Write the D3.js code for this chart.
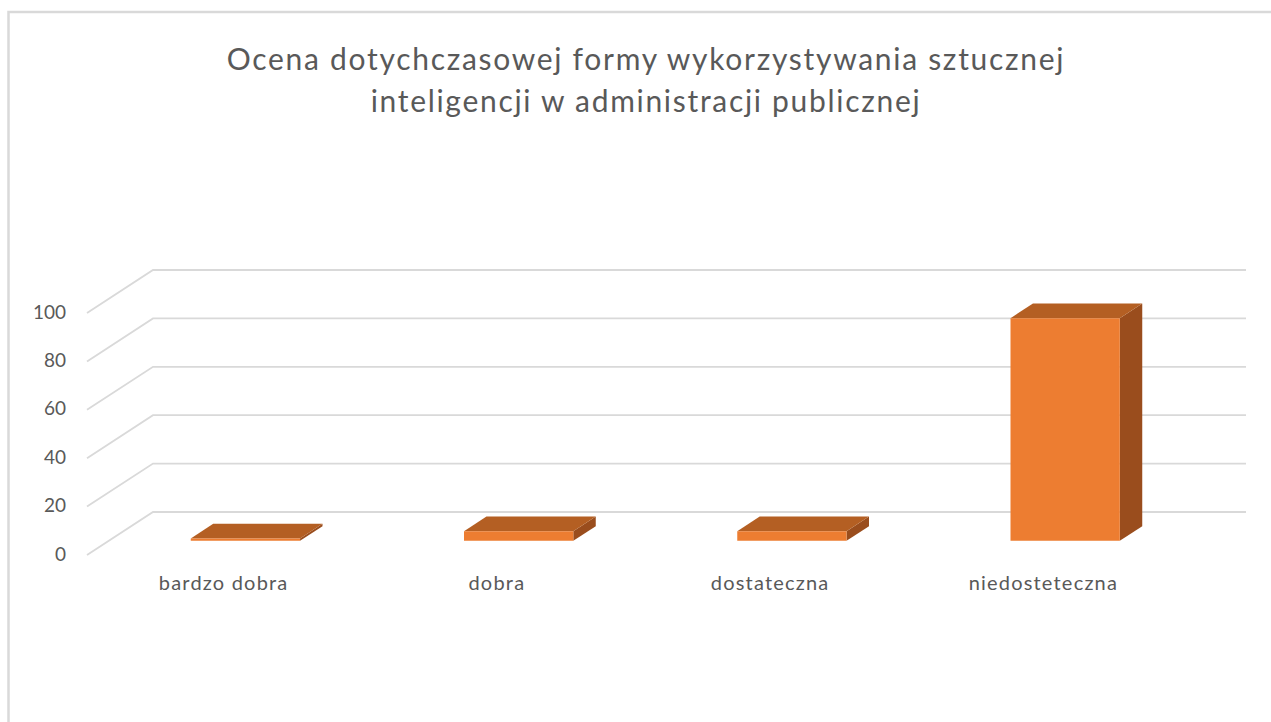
<!DOCTYPE html>
<html>
<head>
<meta charset="utf-8">
<script src="https://cdn.jsdelivr.net/npm/d3@7"></script>
<style>
  body { margin: 0; background: #fff; }
  text { font-family: Lato, "Open Sans", sans-serif; fill: #595959; }
</style>
</head>
<body>
<div id="chart"></div>
<script>
// chart data
let categories = ['bardzo dobra', 'dobra', 'dostateczna', 'niedosteteczna'];
let values = [1, 4, 4, 92];
let tick_values = [0, 20, 40, 60, 80, 100];
let title_lines = ['Ocena dotychczasowej formy wykorzystywania sztucznej',
  'inteligencji w administracji publicznej'];

let svg_width = 1271;
let svg_height = 722;

// back wall of the 3d box
let wall = { left: 153, right: 1246, top: 270, bottom: 512 };
// oblique offset from back to front
let depth_dx = -66;
let depth_dy = 43;

let svg = d3.select('#chart').append('svg')
  .attr('width', svg_width)
  .attr('height', svg_height);

// chart border
svg.append('rect')
  .attr('x', 8.5).attr('y', 12)
  .attr('width', 1300).attr('height', 800)
  .attr('fill', 'none')
  .attr('stroke', '#d9d9d9')
  .attr('stroke-width', 2.5);

let x = d3.scaleBand()
  .domain(categories)
  .range([wall.left, wall.right])
  .padding(0);

let y = d3.scaleLinear()
  .domain([0, 100])
  .range([wall.bottom, wall.top]);

// project a back-wall point to a given depth (0 = back, 1 = front)
function proj(px, py, depth) {
  return [px + depth * depth_dx, py + depth * depth_dy];
}

// gridlines: back wall + side wall
let grid = svg.append('g');
tick_values.forEach(function(t) {
  let yy = y(t);
  let front = proj(wall.left, yy, 1);
  grid.append('path')
    .attr('d', `M${front[0]},${front[1]}L${wall.left},${yy}L${wall.right},${yy}`)
    .attr('fill', 'none')
    .attr('stroke', '#d9d9d9')
    .attr('stroke-width', 1.8);
});

// y tick labels at the front edge
svg.append('g').selectAll('text')
  .data(tick_values)
  .enter()
  .append('text')
  .attr('x', 66)
  .attr('y', d => proj(wall.left, y(d), 1)[1] - 1)
  .attr('dy', '0.35em')
  .attr('text-anchor', 'end')
  .attr('font-size', '19px')
  .text(d => d);

// bars
let bar_w = x.bandwidth() * 0.4;
let d_back = 0.33;
let d_front = 0.67;

let bars = svg.append('g').selectAll('g')
  .data(categories.map((c, i) => ({ cat: c, value: values[i] })))
  .enter()
  .append('g');

function poly(pts) {
  return 'M' + pts.map(p => p.join(',')).join('L') + 'Z';
}

bars.each(function(d) {
  let g = d3.select(this);
  let x0 = x(d.cat) + (x.bandwidth() - bar_w) / 2;
  let x1 = x0 + bar_w;
  let yTop = y(d.value);
  let yBase = y(0);

  let fTL = proj(x0, yTop, d_front), fTR = proj(x1, yTop, d_front);
  let fBR = proj(x1, yBase, d_front), fBL = proj(x0, yBase, d_front);
  let bTL = proj(x0, yTop, d_back), bTR = proj(x1, yTop, d_back);
  let bBR = proj(x1, yBase, d_back);

  // side face
  g.append('path')
    .attr('d', poly([fTR, bTR, bBR, fBR]))
    .attr('fill', '#9a4d1d');
  // top face
  g.append('path')
    .attr('d', poly([fTL, fTR, bTR, bTL]))
    .attr('fill', '#b45f23');
  // front face
  g.append('path')
    .attr('d', poly([fTL, fTR, fBR, fBL]))
    .attr('fill', '#ed7d31');
});

// category labels at front edge
svg.append('g').selectAll('text')
  .data(categories)
  .enter()
  .append('text')
  .attr('x', d => proj(x(d) + x.bandwidth() / 2, 0, 1)[0])
  .attr('y', 590)
  .attr('text-anchor', 'middle')
  .attr('font-size', '20px')
  .attr('letter-spacing', '1.2px')
  .text(d => d);

// title
svg.append('g').selectAll('text')
  .data(title_lines)
  .enter()
  .append('text')
  .attr('x', 646)
  .attr('y', (d, i) => 70 + i * 42)
  .attr('text-anchor', 'middle')
  .attr('font-size', '30px')
  .attr('letter-spacing', '1.7px')
  .text(d => d);
</script>
</body>
</html>
